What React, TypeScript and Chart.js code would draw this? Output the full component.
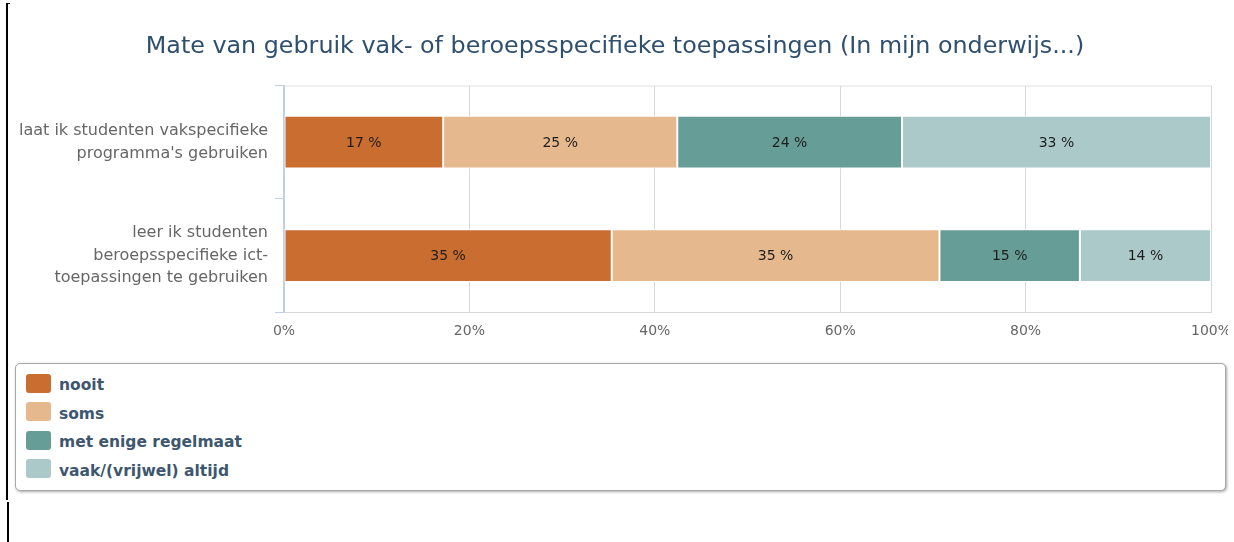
import React, { useEffect, useRef } from "react";
import { Chart, registerables } from "chart.js";

Chart.register(...registerables);

const FONT = "'DejaVu Sans', Verdana, sans-serif";

const chartTitle =
  "Mate van gebruik vak- of beroepsspecifieke toepassingen (In mijn onderwijs...)";

const categories: string[][] = [
  ["laat ik studenten vakspecifieke", "programma's gebruiken"],
  ["leer ik studenten", "beroepsspecifieke ict-", "toepassingen te gebruiken"],
];

const seriesNames = ["nooit", "soms", "met enige regelmaat", "vaak/(vrijwel) altijd"];
const seriesColors = ["#c96d30", "#e6b88e", "#669d97", "#acc9c9"];

const nooit = [17, 35];
const soms = [25, 35];
const regelmaat = [24, 15];
const vaak = [33, 14];

const xTickValues = [0, 20, 40, 60, 80, 100];

const seriesValues = [nooit, soms, regelmaat, vaak];

const rowTotals = categories.map((_, i) =>
  seriesValues.reduce((s, arr) => s + arr[i], 0)
);

const framePlugin = {
  id: "plotFrame",
  beforeDatasetsDraw(chart: any) {
    const { ctx, chartArea } = chart;
    ctx.save();
    ctx.strokeStyle = "#e0e0e0";
    ctx.lineWidth = 1;
    ctx.beginPath();
    ctx.moveTo(chartArea.left, chartArea.top + 0.5);
    ctx.lineTo(chartArea.right, chartArea.top + 0.5);
    ctx.stroke();
    ctx.restore();
  },
};

const labelPlugin = {
  id: "segLabels",
  afterDatasetsDraw(chart: any) {
    const { ctx } = chart;
    ctx.save();
    ctx.font = `14px ${FONT}`;
    ctx.fillStyle = "#1e1e1e";
    ctx.textAlign = "center";
    ctx.textBaseline = "middle";
    chart.data.datasets.forEach((_: any, di: number) => {
      const meta = chart.getDatasetMeta(di);
      meta.data.forEach((el: any, i: number) => {
        const p = el.getProps(["x", "base", "y"], true);
        ctx.fillText(`${seriesValues[di][i]} %`, (p.x + p.base) / 2, p.y + 1);
      });
    });
    ctx.restore();
  },
};

export default function App() {
  const ref = useRef<HTMLCanvasElement | null>(null);

  useEffect(() => {
    if (!ref.current) return;
    const chart = new Chart(ref.current, {
      type: "bar",
      data: {
        labels: categories as any,
        datasets: seriesNames.map((name, si) => ({
          label: name,
          data: seriesValues[si].map((v, i) => (v / rowTotals[i]) * 100),
          backgroundColor: seriesColors[si],
          borderColor: "#ffffff",
          borderWidth: 1,
          borderSkipped: false as any,
          barPercentage: 0.465,
          categoryPercentage: 1,
        })),
      },
      options: {
        indexAxis: "y",
        responsive: false,
        animation: false,
        events: [],
        layout: { padding: { top: 0, left: 19, right: 17, bottom: 0 } },
        plugins: {
          legend: { display: false },
          tooltip: { enabled: false },
          title: {
            display: true,
            text: chartTitle,
            color: "#2f4f6f",
            font: { family: FONT, size: 23.8, weight: "normal" as any, lineHeight: 1.2 },
            padding: { top: 33, bottom: 24 },
          },
        },
        scales: {
          x: {
            stacked: true,
            min: 0,
            max: 100,
            afterBuildTicks: (s: any) => {
              s.ticks = xTickValues.map((v) => ({ value: v }));
            },
            ticks: {
              callback: (v: any) => `${v}%`,
              color: "#666666",
              font: { family: FONT, size: 14 },
              padding: 11,
              maxRotation: 0,
            },
            grid: { color: "#d8d8d8", drawTicks: false },
            border: { display: true, color: "#d8d8d8" },
            afterFit: (s: any) => {
              s.paddingRight = 0;
              s.paddingLeft = 0;
            },
          },
          y: {
            stacked: true,
            z: 1,
            grid: {
              offset: true,
              drawOnChartArea: false,
              drawTicks: true,
              tickLength: 9,
              tickColor: "#c0d0e0",
              tickWidth: 1,
            },
            border: { display: true, color: "#c0d0e0", width: 2 },
            ticks: {
              color: "#666666",
              font: { family: FONT, size: 16, lineHeight: 1.4 },
              padding: 7,
            },
            afterFit: (s: any) => {
              s.width = 265;
              s.paddingTop = 0;
              s.paddingBottom = 0;
            },
          },
        },
      },
      plugins: [framePlugin, labelPlugin],
    });
    return () => chart.destroy();
  }, []);

  return (
    <div
      style={{
        position: "absolute",
        left: 0,
        top: 0,
        width: 1234,
        height: 542,
        background: "#ffffff",
        overflow: "hidden",
        fontFamily: FONT,
      }}
    >
      <div style={{ position: "absolute", left: 6, top: 3, width: 2, height: 497, background: "#000" }} />
      <div style={{ position: "absolute", left: 6, top: 3, width: 4, height: 1, background: "#000" }} />
      <div style={{ position: "absolute", left: 7, top: 502, width: 2, height: 40, background: "#000" }} />
      <canvas
        ref={ref}
        width={1228}
        height={351}
        style={{ position: "absolute", left: 0, top: 0, width: 1228, height: 351 }}
      />
      <div
        style={{
          position: "absolute",
          left: 15,
          top: 363,
          width: 1209,
          height: 126,
          border: "1px solid #a8a8a8",
          borderRadius: 5,
          boxShadow: "1px 1px 3px rgba(0,0,0,0.35)",
          background: "#fff",
        }}
      >
        {seriesNames.map((name, si) => (
          <div
            key={name}
            style={{
              position: "absolute",
              left: 10,
              top: 9 + si * 28.5,
              height: 20,
              display: "flex",
              alignItems: "center",
              whiteSpace: "nowrap",
            }}
          >
            <span
              style={{
                display: "inline-block",
                width: 25,
                height: 19,
                borderRadius: 3,
                background: seriesColors[si],
                marginRight: 8,
              }}
            />
            <span
              style={{
                color: "#3e576f",
                fontSize: 15.5,
                fontWeight: "bold",
                position: "relative",
                top: 2,
              }}
            >
              {name}
            </span>
          </div>
        ))}
      </div>
    </div>
  );
}
